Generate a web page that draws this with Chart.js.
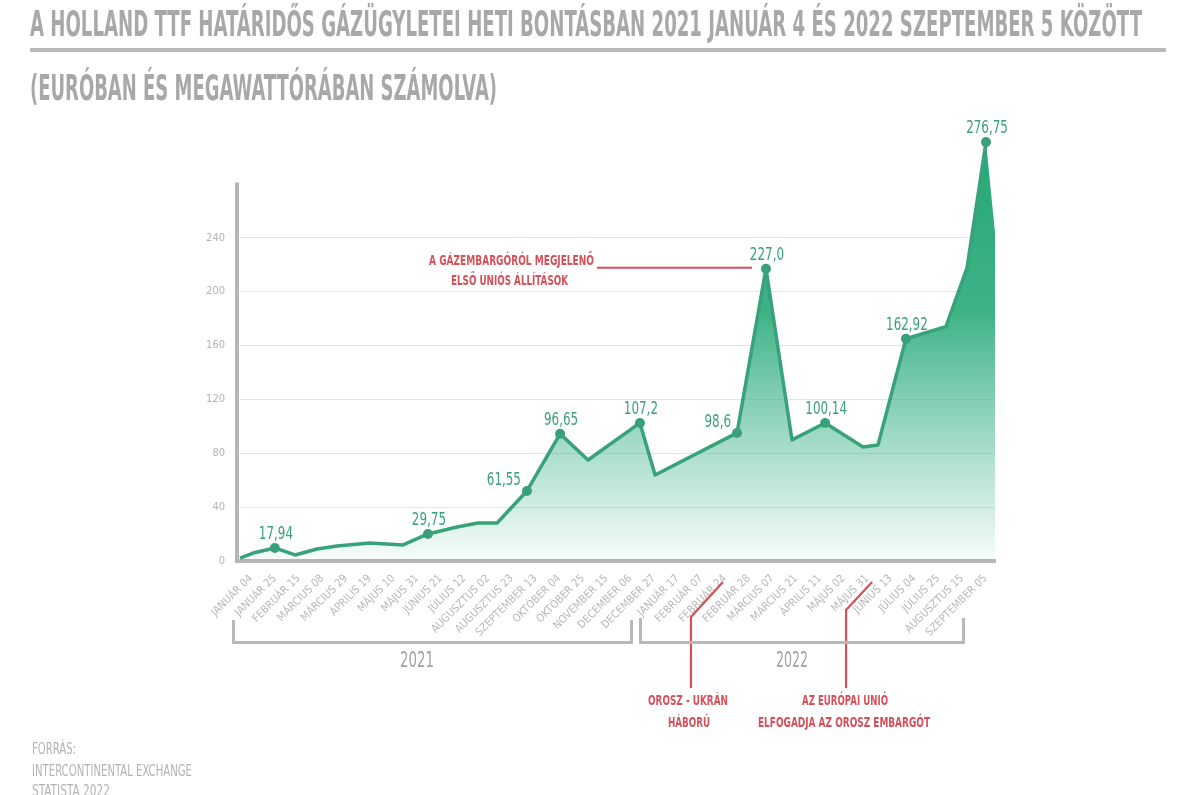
<!DOCTYPE html>
<html><head><meta charset="utf-8">
<script src="https://cdn.jsdelivr.net/npm/chart.js@4"></script>
<style>
html,body{margin:0;padding:0;background:#fff;width:1200px;height:795px;overflow:hidden;}
#wrap{position:relative;width:1200px;height:795px;}
#c{position:absolute;left:0;top:0;}
.t{position:absolute;white-space:nowrap;font-family:'Liberation Sans Narrow','DejaVu Sans Condensed','Roboto Condensed','Liberation Sans',sans-serif;transform-origin:0 0;line-height:1;}
.title{color:#a8a8a8;font-weight:bold;font-size:36px;left:30px;}
.rule{position:absolute;left:30px;top:48px;width:1136px;height:4px;background:#bababa;}
.ann{color:#d6505a;font-weight:bold;font-size:14px;}
.src{color:#b3b3b3;font-size:16px;left:32px;}
.year{color:#a3a3a3;font-size:21px;}
.br{position:absolute;border:3px solid #b9b9b9;border-top:none;box-sizing:border-box;}
</style></head>
<body><div id="wrap">
<canvas id="c" width="1200" height="795"></canvas>
<div class="t title" style="top:6px" data-w="1112">A HOLLAND TTF HATÁRIDŐS GÁZÜGYLETEI HETI BONTÁSBAN 2021 JANUÁR 4 ÉS 2022 SZEPTEMBER 5 KÖZÖTT</div>
<div class="rule"></div>
<div class="t title" style="top:70px" data-w="467">(EURÓBAN ÉS MEGAWATTÓRÁBAN SZÁMOLVA)</div>

<div class="t ann" style="top:253px" data-w="165" data-cx="511">A GÁZEMBARGÓRÓL MEGJELENŐ</div>
<div class="t ann" style="top:273px" data-w="117" data-cx="509">ELSŐ UNIÓS ÁLLÍTÁSOK</div>
<div class="t ann" style="top:693px" data-w="80" data-cx="688">OROSZ - UKRÁN</div>
<div class="t ann" style="top:715px" data-w="42" data-cx="689">HÁBORÚ</div>
<div class="t ann" style="top:693px" data-w="86" data-cx="845">AZ EURÓPAI UNIÓ</div>
<div class="t ann" style="top:715px" data-w="172" data-cx="844">ELFOGADJA AZ OROSZ EMBARGÓT</div>

<div class="br" style="left:232px;top:620px;width:401px;height:24px"></div>
<div class="br" style="left:639px;top:618px;width:326px;height:26px"></div>
<div class="t year" id="y0" style="top:650px" data-w="34" data-cx="417"></div>
<div class="t year" id="y1" style="top:650px" data-w="32" data-cx="792"></div>

<div class="t src" style="top:741px" data-w="44">FORRÁS:</div>
<div class="t src" style="top:763px" data-w="160">INTERCONTINENTAL EXCHANGE</div>
<div class="t src" style="top:783px" data-w="78">STATISTA 2022</div>
</div>
<script>
// ---- data ----
const categories = ['JANUÁR 04','JANUÁR 25','FEBRUÁR 15','MÁRCIUS 08','MÁRCIUS 29','ÁPRILIS 19','MÁJUS 10','MÁJUS 31','JÚNIUS 21','JÚLIUS 12','AUGUSZTUS 02','AUGUSZTUS 23','SZEPTEMBER 13','OKTÓBER 04','OKTÓBER 25','NOVEMBER 15','DECEMBER 06','DECEMBER 27',
  'JANUÁR 17','FEBRUÁR 07','FEBRUÁR 24','FEBRUÁR 28','MÁRCIUS 07','MÁRCIUS 21','ÁPRILIS 11','MÁJUS 02','MÁJUS 31','JÚNIUS 13','JÚLIUS 04','JÚLIUS 25','AUGUSZTUS 15','SZEPTEMBER 05'];
const years = ['2021','2022'];
// position of each weekly point along the category axis (category units)
const weekPos = [-0.47,0.08,1.0,1.85,2.78,3.62,5.01,6.41,7.46,8.69,9.57,10.38,11.64,13.04,14.22,16.41,17.05,20.51,21.73,22.83,24.23,25.83,26.46,27.64,29.33,30.22,31.02,31.40];
const prices  = [2.2,5.9,9.7,4.5,8.9,11.1,13.4,11.9,20.1,25.3,28.2,28.2,52,94.4,75,102.5,63.9,95.1,217,89.9,102.5,84.7,86.2,165,174,217.7,311,243.7];
const valueLabels = [null,null,'17,94',null,null,null,null,null,'29,75',null,null,null,'61,55','96,65',null,'107,2',null,'98,6','227,0',null,'100,14',null,null,'162,92',null,null,'276,75',null];
const labelSide = {12:'right',17:'right'};
const yTicks = [0,40,80,120,160,200,240];
const yMax = 320, yAxisTop = 281;

document.getElementById('y0').textContent = years[0];
document.getElementById('y1').textContent = years[1];

const FONT = "'Liberation Sans Narrow','DejaVu Sans Condensed','Roboto Condensed','Liberation Sans',sans-serif";
const GREEN = '#38a27b';
const RED = '#d6505a';

const extras = {
  id:'extras',
  afterDraw(chart){
    const ctx = chart.ctx, ys = chart.scales.y, xs = chart.scales.x, a = chart.chartArea;
    ctx.save();
    ctx.strokeStyle = '#b6b6b6'; ctx.lineWidth = 4;
    ctx.beginPath(); ctx.moveTo(a.left, ys.getPixelForValue(yAxisTop)); ctx.lineTo(a.left, a.bottom + 2); ctx.stroke();
    ctx.strokeStyle = RED; ctx.lineWidth = 2.2;
    const meta = chart.getDatasetMeta(0);
    const peak = meta.data[18];
    ctx.beginPath(); ctx.moveTo(peak.x - 169, peak.y - 1); ctx.lineTo(peak.x - 14, peak.y - 1); ctx.stroke();
    const war = xs.getPixelForValue(20);
    ctx.beginPath(); ctx.moveTo(war - 2, a.bottom + 21); ctx.lineTo(war - 34, a.bottom + 56); ctx.lineTo(war - 34, a.bottom + 127); ctx.stroke();
    const emb = xs.getPixelForValue(26);
    ctx.beginPath(); ctx.moveTo(emb + 5, a.bottom + 21); ctx.lineTo(emb - 21, a.bottom + 49); ctx.lineTo(emb - 21, a.bottom + 127); ctx.stroke();
    ctx.fillStyle = '#3a9f7b';
    ctx.font = '17px ' + FONT;
    ctx.textBaseline = 'alphabetic';
    const sx = 0.78;
    meta.data.forEach((p, i) => {
      const t = valueLabels[i]; if (!t) return;
      ctx.save();
      if (labelSide[i] === 'right') { ctx.translate(p.x - 6, p.y - 6); ctx.scale(sx, 1); ctx.textAlign = 'right'; }
      else { ctx.translate(p.x + 1, p.y - 9); ctx.scale(sx, 1); ctx.textAlign = 'center'; }
      ctx.fillText(t, 0, 0);
      ctx.restore();
    });
    ctx.restore();
  }
};

const chart = new Chart(document.getElementById('c'), {
  type:'line',
  data:{
    datasets:[{
      data: weekPos.map((x, i) => ({x, y: prices[i]})),
      borderColor: GREEN,
      borderWidth: 3.5,
      borderJoinStyle: 'round',
      tension: 0,
      fill: 'origin',
      clip: false,
      backgroundColor(ctx){
        const a = ctx.chart.chartArea; if (!a) return 'rgba(50,170,125,0.5)';
        const g = ctx.chart.ctx.createLinearGradient(0, a.top, 0, a.bottom);
        g.addColorStop(0, 'rgba(35,166,118,1)');
        g.addColorStop(0.42, 'rgba(45,172,125,0.92)');
        g.addColorStop(0.74, 'rgba(62,180,136,0.45)');
        g.addColorStop(1, 'rgba(62,180,136,0.04)');
        return g;
      },
      pointRadius: weekPos.map((_, i) => valueLabels[i] ? 5 : 0),
      pointBackgroundColor: '#3a9f7b',
      pointBorderWidth: 0,
      segment:{ borderColor: c => c.p1DataIndex === prices.length - 1 ? 'rgba(0,0,0,0)' : undefined }
    }]
  },
  options:{
    responsive:false, animation:false,
    layout:{padding:{left:197, right:205, top:130, bottom:0}},
    plugins:{legend:{display:false}, tooltip:{enabled:false}},
    scales:{
      x:{
        type:'linear', min:-0.6, max:31.4,
        afterBuildTicks(s){ s.ticks = categories.map((_, i) => ({value:i})); },
        afterFit(s){ s.height = 234; },
        grid:{display:false},
        border:{display:true, color:'#b6b6b6', width:4},
        ticks:{autoSkip:false, maxRotation:45, minRotation:45, padding:3, color:'#b8b8b8',
          font:{family:FONT, size:11}, callback:(v) => categories[v]}
      },
      y:{
        min:0, max:yMax,
        afterBuildTicks(s){ s.ticks = yTicks.map(v => ({value:v})); },
        afterFit(s){ s.width = 40; },
        grid:{color:'#e4e4e4', lineWidth:1, drawTicks:false},
        border:{display:false},
        ticks:{padding:12, color:'#b3b3b3', font:{family:FONT, size:11}}
      }
    }
  },
  plugins:[extras]
});

function fitAll(){
  document.querySelectorAll('.t[data-w]').forEach(el => {
    el.style.transform = 'none';
    const w = el.getBoundingClientRect().width;
    const tw = +el.dataset.w;
    el.style.transform = 'scaleX(' + (tw / w) + ')';
    if (el.dataset.cx) el.style.left = (+el.dataset.cx - tw / 2) + 'px';
  });
}
fitAll();
if (document.fonts && document.fonts.ready) document.fonts.ready.then(fitAll);
</script>
</body></html>
